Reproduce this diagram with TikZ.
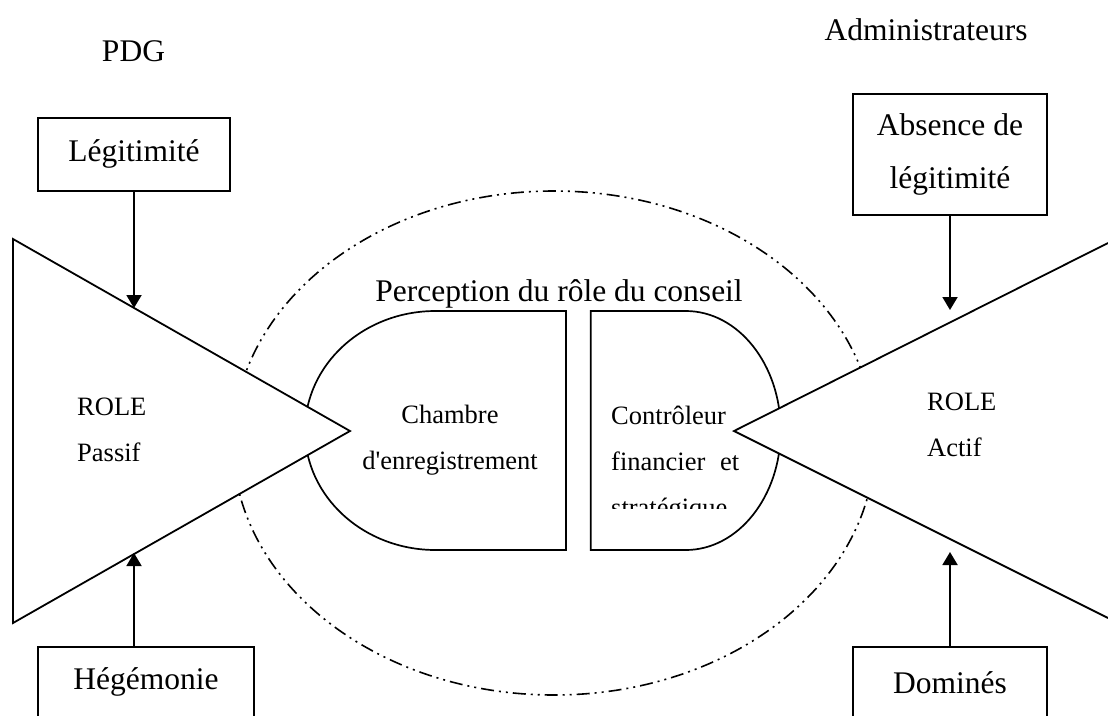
\documentclass[tikz,border=0pt]{standalone}
\usepackage{fontspec}
\setmainfont{Liberation Serif}
\usetikzlibrary{arrows.meta}
\newcommand{\grand}{\fontsize{31.5}{53}\selectfont}
\newcommand{\petit}{\fontsize{26.5}{46}\selectfont}
\tikzset{
  facteur/.style = { draw, line width=1.9pt, inner sep=0pt, font=\grand, align=center },
  titre/.style   = { inner sep=0pt, font=\grand },
  role/.style    = { inner sep=0pt, font=\petit, align=left },
  fleche/.style  = { line width=1.9pt, -{Triangle[width=15pt,length=13pt]} },
  pointe/.style  = { draw, fill=white, line width=1.8pt, line join=miter },
  forme/.style   = { draw, line width=1.7pt },
  cercle/.style  = { line width=1.6pt, dash pattern=on 13pt off 5pt on 2pt off 5pt on 2pt off 5pt }
}

\begin{document}
\begin{tikzpicture}[x=1pt, y=-1pt]
\useasboundingbox (0,0) rectangle (1108,715);
% perception du role
\draw[cercle] (554,443) ellipse [x radius=321, y radius=252];
\draw[forme] (566,311) -- (435.5,311) arc[start angle=-90, end angle=-270, x radius=130.5, y radius=119.5] -- (566,550) -- cycle;
\draw[forme] (590.7,311) -- (685.7,311) arc[start angle=-90, end angle=90, x radius=95, y radius=119.5] -- (590.7,550) -- cycle;
% les deux roles
\path[pointe] (13,239) -- (350,431) -- (13,623) -- cycle;
\path[pointe] (1108,243) -- (734,431) -- (1108,618);
\node[titre, anchor=base] (perception) at (559,301.7) {Perception du rôle du conseil};
\node[role, anchor=base west] (passif) at (77,461) {ROLE\\Passif};
\node[role, anchor=base west] (actif) at (927,456.7) {ROLE\\Actif};
\node[role, anchor=base, align=center] (chambre) at (450,469) {Chambre\\d\textquotesingle enregistrement};
\begin{scope}
\clip (570,300) rectangle (800,508.3);
\node[role, anchor=base west] (controleur) at (611,516) {Contrôleur\\\makebox[128pt][s]{financier et}\\stratégique};
\end{scope}
% acteurs
\node[titre, anchor=base] (pdg) at (133.5,61.7) {PDG};
\node[titre, anchor=base] (admin) at (926,40.7) {Administrateurs};
\node[facteur, minimum width=192pt, minimum height=73pt] (legitimite) at (134,154.4) {Légitimité};
\node[facteur, minimum width=194pt, minimum height=121pt] (absence) at (950,154.5) {Absence de\\légitimité};
\node[facteur, minimum width=216pt, minimum height=71pt] (hegemonie) at (145.9,682.2) {Hégémonie};
\node[facteur, minimum width=194pt, minimum height=71pt] (domines) at (950,682.2) {Dominés};
\coordinate (legitpt) at (134,308);
\coordinate (absencept) at (950,310);
\coordinate (hegpt) at (134,553);
\coordinate (dompt) at (950,552);
\draw[fleche] (legitimite) -- (legitpt);
\draw[fleche] (absence) -- (absencept);
\draw[fleche] (hegpt |- hegemonie.north) -- (hegpt);
\draw[fleche] (domines) -- (dompt);
\end{tikzpicture}
\end{document}
